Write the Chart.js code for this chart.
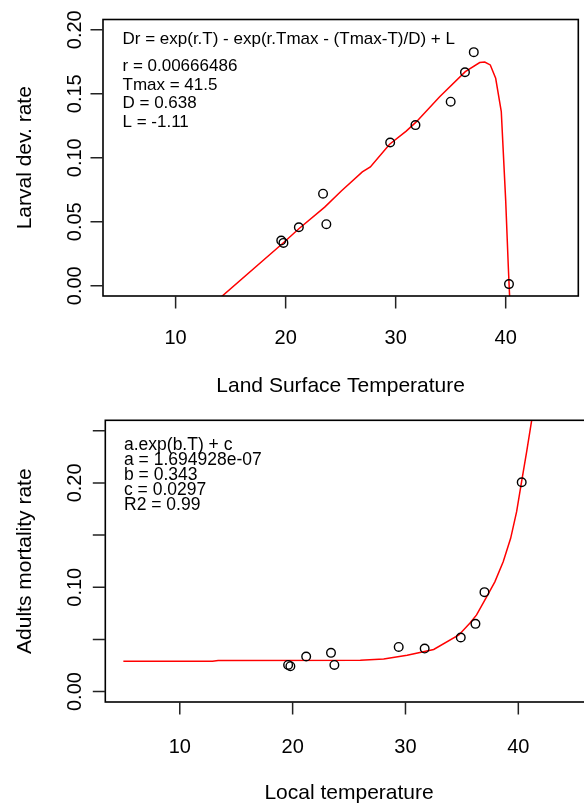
<!DOCTYPE html>
<html><head><meta charset="utf-8">
<script src="https://cdn.jsdelivr.net/npm/chart.js@4.4.0/dist/chart.umd.min.js"></script>
<style>
html,body{margin:0;padding:0;background:#fff;width:584px;height:806px;overflow:hidden;}
#wrap{position:relative;width:584px;height:806px;overflow:hidden;background:#fff;}
#c1{position:absolute;left:0;top:0;}
#c2{position:absolute;left:0;top:403px;}
</style></head><body>
<div id="wrap"><canvas id="c1" width="584" height="403"></canvas><canvas id="c2" width="600" height="403"></canvas></div>
<script>
// ---- Data ----
const larvalTemp = [19.6, 19.8, 21.2, 23.4, 23.7, 29.5, 31.8, 35.0, 36.3, 37.1, 40.3];
const larvalRate = [0.0353, 0.0335, 0.0457, 0.0719, 0.0481, 0.1119, 0.1255, 0.1438, 0.1668, 0.1825, 0.0013];

const larvalFitTemp = [14.0, 19.85, 21.2, 23.55, 25.06, 26.97, 27.7, 29.45, 30.96, 31.87, 34.0, 36.33, 37.64, 38.1, 38.6, 39.09, 39.6, 40.0, 40.24, 40.36];
const larvalFitRate = [-0.0098, 0.034, 0.0445, 0.0614, 0.0740, 0.0889, 0.0928, 0.1106, 0.1208, 0.128, 0.1477, 0.1673, 0.1744, 0.1747, 0.1725, 0.1621, 0.136, 0.0667, 0.0144, -0.009];

const adultTemp = [19.6, 19.8, 21.2, 23.4, 23.7, 29.4, 31.7, 34.9, 36.2, 37.0, 40.3];
const adultMort = [0.0255, 0.0243, 0.0336, 0.0371, 0.0255, 0.0428, 0.0412, 0.0518, 0.0649, 0.0953, 0.2006];

const adultFitTemp = [5.0, 12.9, 13.4, 26.0, 28.07, 30.15, 32.5, 34.73, 35.7, 36.3, 37.19, 37.92, 38.66, 39.32, 39.85, 40.29, 40.74, 41.19, 41.5];
const adultFitMort = [0.0290, 0.0290, 0.0298, 0.0300, 0.0313, 0.0348, 0.0403, 0.0543, 0.0655, 0.0735, 0.0908, 0.1052, 0.1244, 0.1469, 0.1724, 0.2012, 0.2300, 0.2604, 0.282];

const xTicks = [10, 20, 30, 40];
const xTickLabels = ['10', '20', '30', '40'];
const larvalYTicks = [0, 0.05, 0.10, 0.15, 0.20];
const larvalYTickLabels = ['0.00', '0.05', '0.10', '0.15', '0.20'];
const adultYTicks = [0, 0.05, 0.10, 0.15, 0.20, 0.25];
const adultYTickLabels = ['0.00', '', '0.10', '', '0.20', ''];

const larvalNote = ['Dr = exp(r.T) - exp(r.Tmax - (Tmax-T)/D) + L', 'r = 0.00666486', 'Tmax = 41.5', 'D = 0.638', 'L = -1.11'];
const adultNote = ['a.exp(b.T) + c', 'a = 1.694928e-07', 'b = 0.343', 'c = 0.0297', 'R2 = 0.99'];

const FONT = '"Liberation Sans", Arial, Helvetica, sans-serif';

const rPlot = {
  id: 'rPlot',
  afterDraw(chart, args, o) {
    const ctx = chart.ctx, a = chart.chartArea, xs = chart.scales.x, ys = chart.scales.y;
    ctx.save();
    ctx.strokeStyle = '#000';
    ctx.fillStyle = '#000';
    ctx.lineWidth = 1.6;
    ctx.strokeRect(a.left, a.top, a.right - a.left, a.bottom - a.top);
    // tick marks
    ctx.lineWidth = 1.5;
    ctx.strokeStyle = '#222';
    ctx.beginPath();
    o.xTicks.forEach(v => { const p = xs.getPixelForValue(v); ctx.moveTo(p, a.bottom); ctx.lineTo(p, a.bottom + 12.5); });
    o.yTicks.forEach(v => { const p = ys.getPixelForValue(v); ctx.moveTo(a.left, p); ctx.lineTo(a.left - 12.5, p); });
    ctx.stroke();
    // tick labels
    ctx.font = '20px ' + FONT;
    ctx.textAlign = 'center';
    ctx.textBaseline = 'alphabetic';
    o.xTicks.forEach((v, i) => { ctx.fillText(o.xLabels[i], xs.getPixelForValue(v), a.bottom + o.xLabelOff); });
    o.yTicks.forEach((v, i) => {
      if (!o.yLabels[i]) return;
      ctx.save();
      ctx.translate(o.yLabelX, ys.getPixelForValue(v));
      ctx.rotate(-Math.PI / 2);
      ctx.fillText(o.yLabels[i], 0, 0);
      ctx.restore();
    });
    // axis titles
    ctx.font = '21px ' + FONT;
    ctx.fillText(o.xTitle, (a.left + a.right) / 2, a.bottom + o.xTitleOff);
    ctx.save();
    ctx.translate(o.yTitleX, (a.top + a.bottom) / 2);
    ctx.rotate(-Math.PI / 2);
    ctx.fillText(o.yTitle, 0, 0);
    ctx.restore();
    // annotation text
    ctx.font = o.noteFont + 'px ' + FONT;
    ctx.textAlign = 'left';
    o.note.forEach((t, i) => { ctx.fillText(t, o.noteX, o.noteY[i]); });
    ctx.restore();
  }
};

function makePanel(id, cfg) {
  return new Chart(document.getElementById(id), {
    type: 'scatter',
    data: {
      datasets: [
        { type: 'line', data: cfg.fitX.map((x, i) => ({ x: x, y: cfg.fitY[i] })), borderColor: '#ff0000', borderWidth: 1.5, pointRadius: 0, tension: 0, fill: false, clip: 0, order: 2 },
        { type: 'scatter', data: cfg.ptX.map((x, i) => ({ x: x, y: cfg.ptY[i] })), pointStyle: 'circle', pointRadius: 4.3, borderColor: '#000', backgroundColor: 'rgba(0,0,0,0)', pointBorderWidth: 1.4, borderWidth: 1.4, clip: false, order: 1 }
      ]
    },
    options: {
      responsive: false, animation: false, devicePixelRatio: 1,
      layout: { padding: cfg.pad },
      plugins: { legend: { display: false }, tooltip: { enabled: false }, rPlot: cfg.plot },
      scales: {
        x: { type: 'linear', display: false, min: 3.4, max: 46.6 },
        y: { type: 'linear', display: false, min: cfg.ymin, max: cfg.ymax }
      }
    },
    plugins: [rPlot]
  });
}

makePanel('c1', {
  ptX: larvalTemp, ptY: larvalRate, fitX: larvalFitTemp, fitY: larvalFitRate,
  ymin: -0.008, ymax: 0.208,
  pad: { left: 103, top: 19.5, right: 3, bottom: 107 },
  plot: {
    xTicks: xTicks, xLabels: xTickLabels, yTicks: larvalYTicks, yLabels: larvalYTickLabels,
    xLabelOff: 47.5, yLabelX: 80.5, xTitle: 'Land Surface Temperature', xTitleOff: 96, yTitle: 'Larval dev. rate', yTitleX: 31,
    note: larvalNote, noteFont: 17, noteX: 122.5, noteY: [44.3, 71, 89.7, 108.3, 126.7]
  }
});

makePanel('c2', {
  ptX: adultTemp, ptY: adultMort, fitX: adultFitTemp, fitY: adultFitMort,
  ymin: -0.01, ymax: 0.26,
  pad: { left: 105.3, top: 17.3, right: 7.2, bottom: 104 },
  plot: {
    xTicks: xTicks, xLabels: xTickLabels, yTicks: adultYTicks, yLabels: adultYTickLabels,
    xLabelOff: 50.5, yLabelX: 80.5, xTitle: 'Local temperature', xTitleOff: 97, yTitle: 'Adults mortality rate', yTitleX: 30.5,
    note: adultNote, noteFont: 17.5, noteX: 124, noteY: [47, 61.5, 77, 91.5, 107]
  }
});
</script>
</body></html>
